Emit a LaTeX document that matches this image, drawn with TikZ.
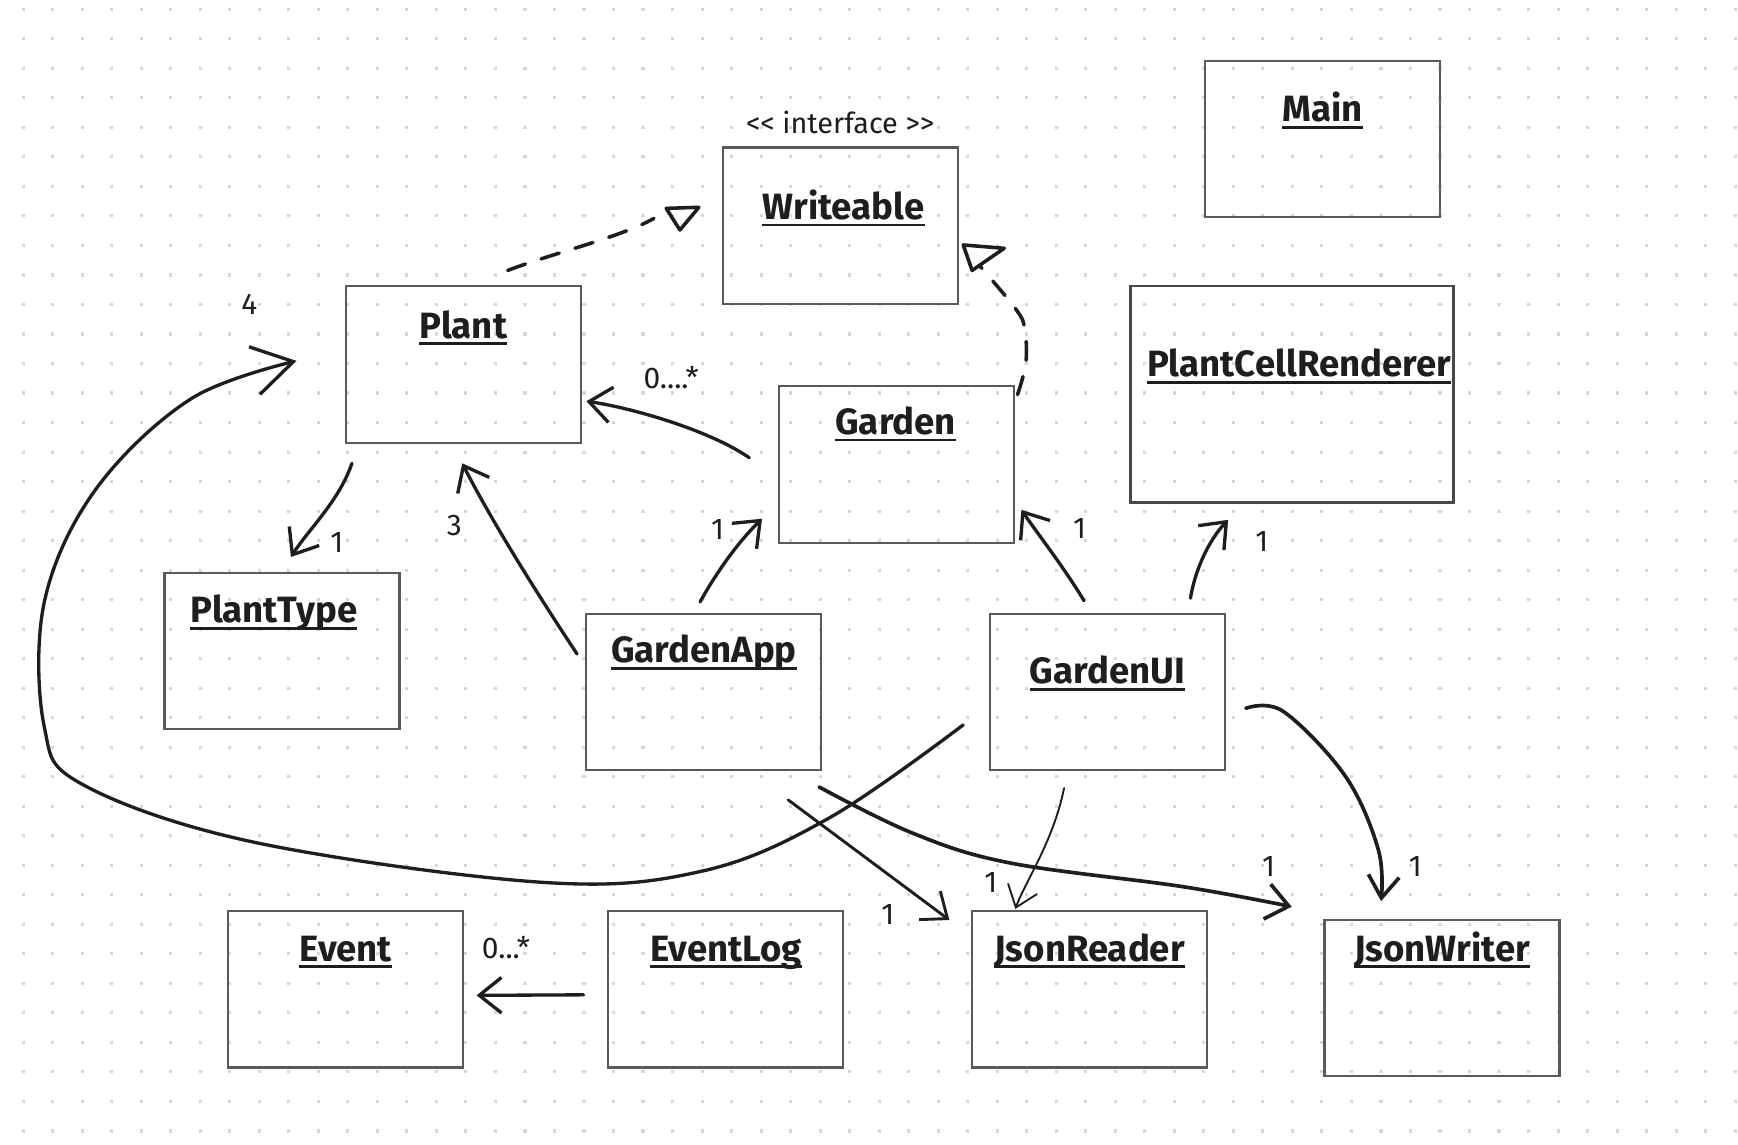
\documentclass[tikz,border=0pt]{standalone}
\usepackage{fontspec}
\setmainfont{Fira Sans}
\usetikzlibrary{arrows.meta}
\definecolor{dotc}{HTML}{D6D8E0}
\definecolor{boxc}{HTML}{5A5A5A}
\definecolor{ink}{HTML}{1E1E1E}
\tikzset{
 box/.style={draw=boxc, line width=2pt, minimum width=212pt, minimum height=141pt, inner sep=0pt},
 ttl/.style={font=\bfseries\fontsize{33}{38}\selectfont, inner sep=0pt, anchor=base, text=ink},
 uline/.style={draw=ink, line width=2.2pt},
 lbl/.style={font=\fontsize{27}{31}\selectfont, inner sep=0pt, text=ink},
 conn/.style={draw=ink, line width=3pt, line cap=round, line join=round, -{Straight Barb[length=20pt,width=32pt]}},
 dashln/.style={draw=ink, line width=3.2pt, line cap=round, dash pattern=on 17pt off 15pt},
 tri/.style={draw=ink, line width=3.2pt, line join=round},
}
\newcommand\boxtitle[4]{\node[ttl] (#1) at (#2,#3) {#4}; \draw[uline] ([yshift=-5pt]#1.base west) -- ([yshift=-5pt]#1.base east);}
\begin{document}
\begin{tikzpicture}[x=1pt,y=-1pt]
\useasboundingbox (0,0) rectangle (1568,1033);
\fill[white] (0,0) rectangle (1568,1033);
\foreach \i in {0,...,58}{\foreach \j in {0,...,38}{\fill[dotc] ({20.9+26.63*\i-1.4},{8.4+26.63*\j-1.4}) rectangle ++(2.8,2.8);}}

% boxes
\node[box] (writeable) at (758,203.5) {};
\node[box] (main) at (1193,125.5) {};
\node[box, minimum height=142pt] (plant) at (418,329) {};
\node[box, minimum width=291pt, minimum height=195pt, line width=2.6pt, draw=boxc!80!black] (pcr) at (1165.5,355.5) {};
\node[box, minimum height=142pt] (garden) at (809,419) {};
\node[box] (planttype) at (254.5,587.5) {};
\node[box] (gardenapp) at (634.5,624.5) {};
\node[box] (gardenui) at (999.5,624.5) {};
\node[box] (event) at (311.5,892.5) {};
\node[box] (eventlog) at (654.5,892.5) {};
\node[box] (jsonreader) at (983,892.5) {};
\node[box] (jsonwriter) at (1301,900.5) {};

% titles
\boxtitle{writeableT}{761}{198}{Writeable}
\boxtitle{mainT}{1193}{110}{Main}
\boxtitle{plantT}{418}{305}{Plant}
\boxtitle{pcrT}{1172}{340}{PlantCellRenderer}
\boxtitle{gardenT}{808}{392}{Garden}
\boxtitle{planttypeT}{247}{562}{PlantType}
\boxtitle{gardenappT}{635}{598}{GardenApp}
\boxtitle{gardenuiT}{999}{617}{GardenUI}
\boxtitle{eventT}{312}{867}{Event}
\boxtitle{eventlogT}{655}{867}{EventLog}
\boxtitle{jsonreaderT}{983}{867}{JsonReader}
\boxtitle{jsonwriterT}{1301}{867}{JsonWriter}
\node[lbl, font=\fontsize{26}{30}\selectfont, anchor=base] (iface) at (758,120) {<\kern0pt< interface >\kern0pt>};

% connector end points
\coordinate (c1s) at (458,244);   \coordinate (c1e) at (590,197);
\coordinate (c2s) at (918,356);   \coordinate (c2e) at (884,240);
\coordinate (c3s) at (676,413);   \coordinate (c3e) at (529,362);
\coordinate (c4s) at (317.5,418); \coordinate (c4e) at (262.5,502.5);
\coordinate (c5s) at (520.6,590); \coordinate (c5e) at (417,418);
\coordinate (c6s) at (631.6,543); \coordinate (c6e) at (687.5,468);
\coordinate (c7s) at (978,542);   \coordinate (c7e) at (921.5,460);
\coordinate (c8s) at (1074,539.7);\coordinate (c8e) at (1108,469);
\coordinate (c9s) at (869,654);   \coordinate (c9e) at (267.5,325.6);
\coordinate (c10s) at (711,721.6);\coordinate (c10e) at (856.5,830);
\coordinate (c11s) at (739,710);  \coordinate (c11e) at (1165.4,818);
\coordinate (c12s) at (960,711);  \coordinate (c12e) at (916,820);
\coordinate (c13s) at (1124,639); \coordinate (c13e) at (1246,813);
\coordinate (c14s) at (526.5,897.5); \coordinate (c14e) at (430,898);

% realizations (dashed)
\draw[dashln] (c1s) .. controls (500,228) and (560,214) .. (c1e);
\draw[tri] (601,188) -- (630.5,187) -- (613.4,207.5) -- cycle;
\draw[dashln] plot[smooth, tension=0.6] coordinates {(c2s) (925.5,327.6) (924.6,297.7) (917,279.6) (c2e)};
\draw[tri] (869,221) -- (906,224) -- (877,244) -- cycle;

% associations
\draw[conn] (c3s) .. controls (640,388) and (570,368) .. (c3e);
\draw[conn] (c4s) .. controls (306,452) and (278,478) .. (c4e);
\draw[conn] (c5s) .. controls (475,521) and (440,463) .. (c5e);
\draw[conn] (c6s) .. controls (650,510) and (670,485) .. (c6e);
\draw[conn] (c7s) .. controls (960,512) and (935,480) .. (c7e);
\draw[conn] (c8s) .. controls (1078,515) and (1090,488) .. (c8e);
\draw[conn, -{Straight Barb[length=36pt,width=44pt]}] plot[smooth, tension=0.6] coordinates {(c9s) (748,738) (633,786) (489,796) (230,760) (75,708) (40,656) (40,543) (86,442) (172,360) (c9e)};
\draw[conn, line width=2.6pt] (c10s) -- (c10e);
\draw[conn, line width=3.3pt] plot[smooth, tension=0.6] coordinates {(c11s) (823,751.5) (911,778.5) (1067.6,800) (c11e)};
\draw[conn, line width=1.7pt, -{Straight Barb[length=18pt,width=28pt]}] (c12s) .. controls (950,760) and (925,795) .. (c12e);
\draw[conn, line width=3.3pt, -{Straight Barb[length=20pt,width=28pt]}] plot[smooth, tension=0.6] coordinates {(c13s) (1158,642) (1214,700.6) (1243.6,767) (c13e)};
\draw[conn] (c14s) -- (c14e);

% multiplicities
\node[lbl] (m4) at (225,275) {4};
\node[lbl] (m0a) at (605.5,341) {0....*};
\node[lbl] (m1a) at (304,489) {1};
\node[lbl] (m3) at (410,474) {3};
\node[lbl] (m1b) at (647.5,478) {1};
\node[lbl] (m1c) at (974,476.5) {1};
\node[lbl] (m1d) at (1138.5,488.6) {1};
\node[lbl] (m1e) at (1144.6,781.7) {1};
\node[lbl] (m1f) at (1277,781.7) {1};
\node[lbl] (m1g) at (894,796.5) {1};
\node[lbl] (m1h) at (801,825.3) {1};
\node[lbl] (m0b) at (456.5,855) {0...*};
\end{tikzpicture}
\end{document}
